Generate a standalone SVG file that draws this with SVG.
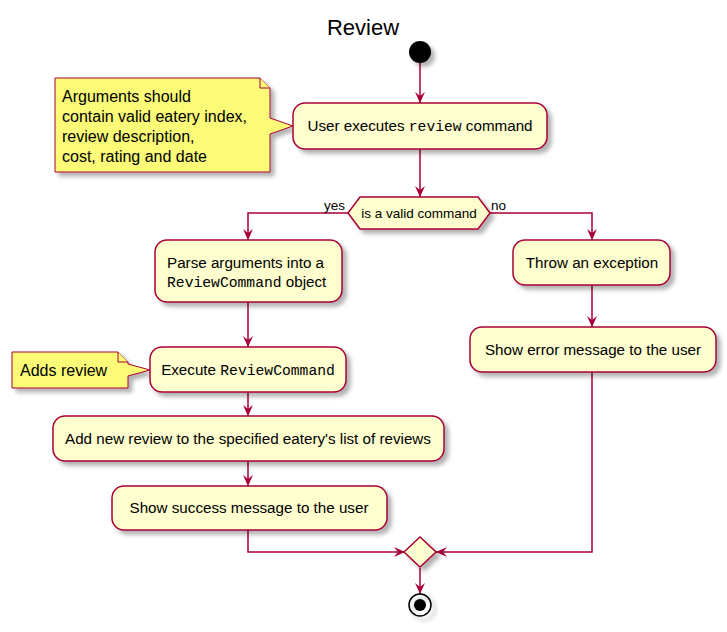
<svg xmlns="http://www.w3.org/2000/svg" width="727" height="632" viewBox="0 0 727 632">
<style>
.act{fill:#FEFECE;stroke:#A80036;stroke-width:1.5}
.note{fill:#FBFB77;stroke:#A80036;stroke-width:1}
.ln{fill:none;stroke:#A80036;stroke-width:1.5}
text{font-family:"Liberation Sans",Arial,sans-serif;font-size:15.2px;fill:#000}
.c{text-anchor:middle}
.m{font-family:"Liberation Mono","Courier New",monospace;font-size:14.7px}
.s{font-size:13.5px}
.n{font-size:16px}
</style>
<defs>
<filter id="sh" x="-20%" y="-20%" width="150%" height="160%">
<feDropShadow dx="4" dy="4" stdDeviation="2" flood-color="#000" flood-opacity="0.3"/>
</filter>
<marker id="arr" viewBox="0 0 12 10" refX="11" refY="5" markerWidth="12" markerHeight="10" markerUnits="userSpaceOnUse" orient="auto">
<path d="M0,0 L11,5 L0,10 L4,5 Z" fill="#A80036"/>
</marker>
</defs>
<text x="363" y="35" class="c" style="font-size:22px">Review</text>

<g id="connectors">
<path class="ln" d="M420,63 V103" marker-end="url(#arr)"/>
<path class="ln" d="M420,149 V197" marker-end="url(#arr)"/>
<path class="ln" d="M348,213 H248 V240" marker-end="url(#arr)"/>
<path class="ln" d="M490,213 H592 V240" marker-end="url(#arr)"/>
<path class="ln" d="M592,285 V327" marker-end="url(#arr)"/>
<path class="ln" d="M248,302 V347" marker-end="url(#arr)"/>
<path class="ln" d="M248,392 V416" marker-end="url(#arr)"/>
<path class="ln" d="M248,461 V486" marker-end="url(#arr)"/>
<path class="ln" d="M248,530 V552 H405" marker-end="url(#arr)"/>
<path class="ln" d="M592,372 V552 H436" marker-end="url(#arr)"/>
<path class="ln" d="M420,568 V594" marker-end="url(#arr)"/>
<text x="324" y="210" class="s">yes</text>
<text x="491" y="210" class="s">no</text>
</g>

<g id="start"><circle cx="420" cy="52" r="11" fill="#000" filter="url(#sh)"/></g>

<g id="note1">
<path class="note" filter="url(#sh)" d="M55,78 H260 L270,88 V118 L293,126 L270,134 V172 H55 Z"/>
<path class="note" d="M260,78 V88 H270"/>
<text x="62" y="102" class="n">Arguments should</text>
<text x="62" y="122" class="n">contain valid eatery index,</text>
<text x="62" y="142" class="n">review description,</text>
<text x="62" y="162" class="n">cost, rating and date</text>
</g>

<g id="userExecutes">
<rect class="act" filter="url(#sh)" x="293" y="103" width="254" height="46" rx="12"/>
<text x="420" y="131" class="c">User executes <tspan class="m">review</tspan> command</text>
</g>

<g id="validCheck">
<path class="act" filter="url(#sh)" d="M348,213 L360,197 H478 L490,213 L478,229 H360 Z"/>
<text x="419" y="218" class="c s">is a valid command</text>
</g>

<g id="parse">
<rect class="act" filter="url(#sh)" x="155" y="240" width="187" height="62" rx="12"/>
<text x="167" y="268">Parse arguments into a</text>
<text x="167" y="287"><tspan class="m">ReviewCommand</tspan> object</text>
</g>

<g id="throw">
<rect class="act" filter="url(#sh)" x="513" y="240" width="157" height="45" rx="12"/>
<text x="592" y="268" class="c">Throw an exception</text>
</g>

<g id="showError">
<rect class="act" filter="url(#sh)" x="470" y="327" width="246" height="45" rx="12"/>
<text x="593" y="355" class="c">Show error message to the user</text>
</g>

<g id="note2">
<path class="note" filter="url(#sh)" d="M12,352 H118 L128,362 V364 L150,370 L128,376 V388 H12 Z"/>
<path class="note" d="M118,352 V362 H128"/>
<text x="20" y="376" class="n">Adds review</text>
</g>

<g id="execute">
<rect class="act" filter="url(#sh)" x="150" y="347" width="196" height="45" rx="12"/>
<text x="248" y="375" class="c">Execute <tspan class="m">ReviewCommand</tspan></text>
</g>

<g id="addReview">
<rect class="act" filter="url(#sh)" x="53" y="416" width="391" height="45" rx="12"/>
<text x="248" y="444" class="c">Add new review to the specified eatery's list of reviews</text>
</g>

<g id="showSuccess">
<rect class="act" filter="url(#sh)" x="112" y="486" width="275" height="44" rx="12"/>
<text x="249" y="513" class="c">Show success message to the user</text>
</g>

<g id="merge">
<path class="act" filter="url(#sh)" d="M420,537 L436,552 L420,567 L404,552 Z"/>
</g>

<g id="end">
<circle cx="420" cy="605" r="11" fill="none" stroke="#000" stroke-width="1.5" filter="url(#sh)"/>
<circle cx="420" cy="605" r="6" fill="#000"/>
</g>
</svg>
